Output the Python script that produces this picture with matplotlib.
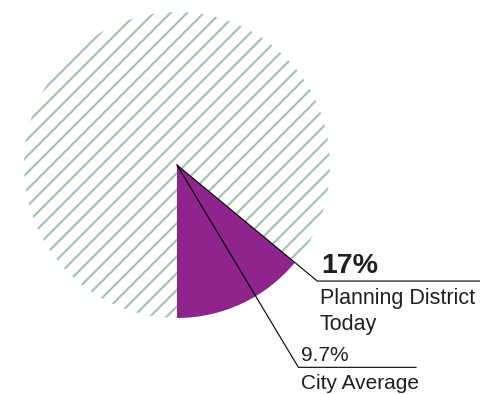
import matplotlib as mpl
import matplotlib.pyplot as plt
import numpy as np

# slice shares as drawn in the picture (purple wedge vs hatched remainder)
slice_share = [14.0, 86.0]
# position of the city-average marker line, as drawn (share of the circle)
city_share = 8.6
# label texts
district_value = "17%"
district_label = "Planning District\nToday"
city_value = "9.7%"
city_label = "City Average"

PURPLE = "#8e248c"
HATCH = "#a6c4ae"
INK = "#231f20"

mpl.rcParams.update({
    "font.family": ["Liberation Sans", "DejaVu Sans"],
    "hatch.linewidth": 1.6,
})

fig = plt.figure(figsize=(4.81, 3.94), dpi=100)
ax = fig.add_axes([0, 0, 1, 1])

R = 153.0  # pixels per unit radius
cx, cy = 177.0, 165.0  # centre in pixels from top-left
wedges, _ = ax.pie(slice_share, startangle=-90, counterclock=True, radius=1,
                   colors=[PURPLE, "white"],
                   wedgeprops=dict(linewidth=0))
wedges[0].set_edgecolor(PURPLE)
wedges[1].set_edgecolor(HATCH)
wedges[1].set_hatch("//")

ax.set_xlim(-cx / R, (481 - cx) / R)
ax.set_ylim(-(394 - cy) / R, cy / R)
ax.set_aspect("auto")
ax.axis("off")

# leader for district value: along the wedge edge, then horizontal
a1 = np.deg2rad(-90 + slice_share[0] / 100 * 360)
bx, by = 1.19 * np.cos(a1), 1.19 * np.sin(a1)
ax.plot([0, bx, (481 - cx) / R], [0, by, by], color="black", lw=0.8,
        solid_joinstyle="miter", zorder=5)

# leader for city average
a2 = np.deg2rad(-90 + city_share / 100 * 360)
r2 = 1.542
qx, qy = r2 * np.cos(a2), r2 * np.sin(a2)
ax.plot([0, qx, (416 - cx) / R], [0, qy, qy], color="black", lw=0.8,
        solid_joinstyle="miter", zorder=5)

# texts
ax.text((321 - cx) / R, by + 0.05, district_value, fontsize=20.5, fontweight="bold",
        color=INK, ha="left", va="baseline")
ax.text((320 - cx) / R, by - 0.045, district_label, fontsize=15.5, color=INK,
        ha="left", va="top", linespacing=1.3)
ax.text((301 - cx) / R, qy + 0.04, city_value, fontsize=15, color=INK,
        ha="left", va="baseline")
ax.text((301 - cx) / R, qy - 0.045, city_label, fontsize=15, color=INK,
        ha="left", va="top")

fig.savefig("out.png", dpi=100)
